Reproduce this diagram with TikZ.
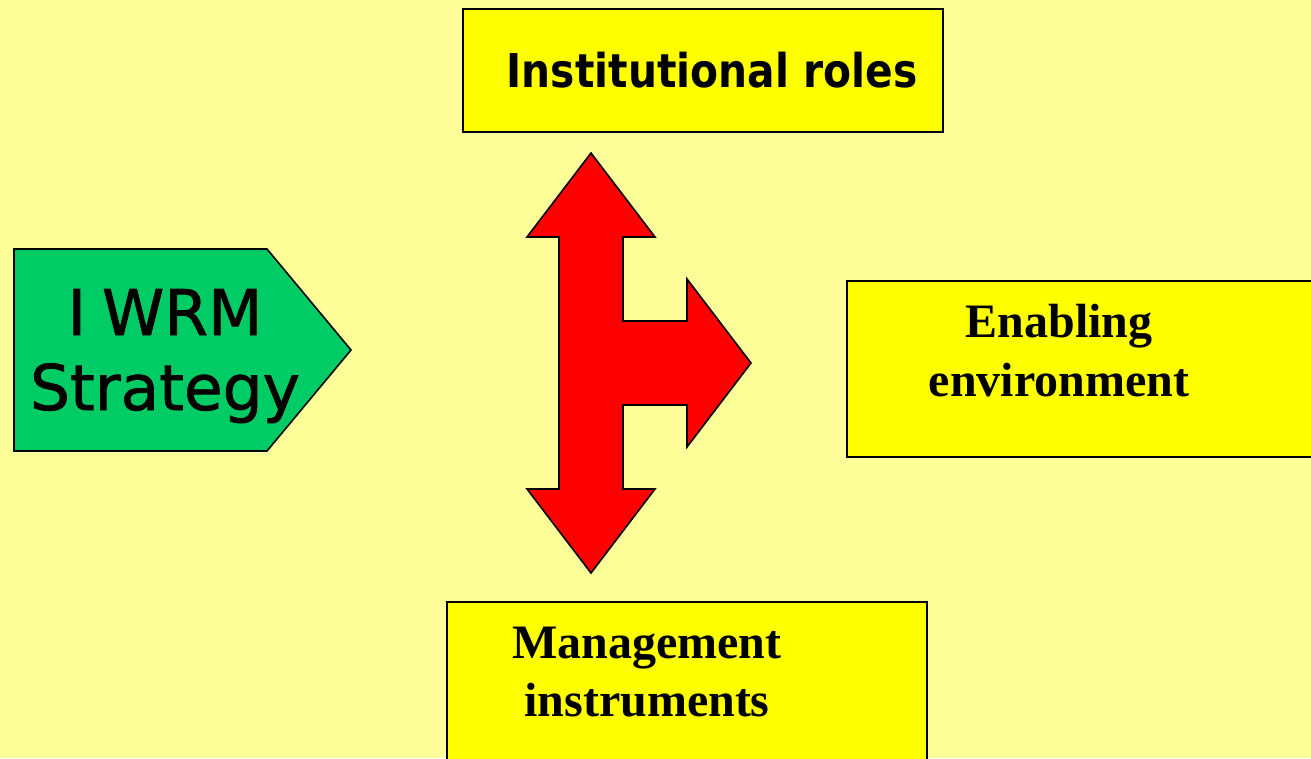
\documentclass[tikz,border=0pt]{standalone}
\usepackage{fontspec}
\usepackage{xcolor}
\newfontfamily\timesfont{Liberation Serif}
\newfontfamily\tahomafont{DejaVu Sans}[FakeBold=1.2]
\newfontfamily\tahomaboldfont{DejaVu Sans}[UprightFont={* Bold}, FakeStretch=0.875]
\definecolor{slidebg}{HTML}{FFFF99}
\definecolor{boxyellow}{HTML}{FFFF00}
\definecolor{iwrmgreen}{HTML}{00CC66}
\tikzset{
  box/.style={draw=black, line width=1.6pt, fill=boxyellow, inner sep=0pt},
  shapeline/.style={draw=black, line width=1.6pt, line join=miter},
}

\begin{document}
\begin{tikzpicture}[x=1pt,y=-1pt]
%\draw[step=50,gray,very thin] (0,0) grid (1311,758); %background grid
\useasboundingbox (0,0) rectangle (1311,758);
\fill[slidebg] (0,0) rectangle (1311,758);
\clip (0,0) rectangle (1311,758);

\node[box, minimum width=480, minimum height=123] (instbox)   at (703,70.5) {};
\node[box, minimum width=490, minimum height=176] (enablebox) at (1092,369) {};
\node[box, minimum width=480, minimum height=180] (managebox) at (687,692) {};

\node[anchor=base, font=\tahomaboldfont\fontsize{46.6}{56}\selectfont] (instlabel) at (712,87) {Institutional roles};
\node[anchor=base, align=center, font=\timesfont\bfseries\fontsize{48}{59}\selectfont] (enablelabel) at (1059,396) {Enabling\\environment};
\node[anchor=base, align=center, font=\timesfont\bfseries\fontsize{48}{58}\selectfont] (managelabel) at (647,716) {Management\\instruments};

% strategy arrow
\draw[shapeline, fill=iwrmgreen] (14,249) -- (267,249) -- (351,350) -- (267,451) -- (14,451) -- cycle;
\node[anchor=base, align=center, font=\tahomafont\fontsize{63}{75}\selectfont] (iwrmlabel) at (165,410) {I\hspace{16pt}WRM\\Strategy};

% red three way arrow
\draw[shapeline, fill=red] (591,153) -- (655,237) -- (623,237) -- (623,321) -- (687,321) -- (687,279)
  -- (751,363) -- (687,447) -- (687,405) -- (623,405) -- (623,489) -- (655,489) -- (591,573)
  -- (527,489) -- (559,489) -- (559,237) -- (527,237) -- cycle;

\end{tikzpicture}
\end{document}
